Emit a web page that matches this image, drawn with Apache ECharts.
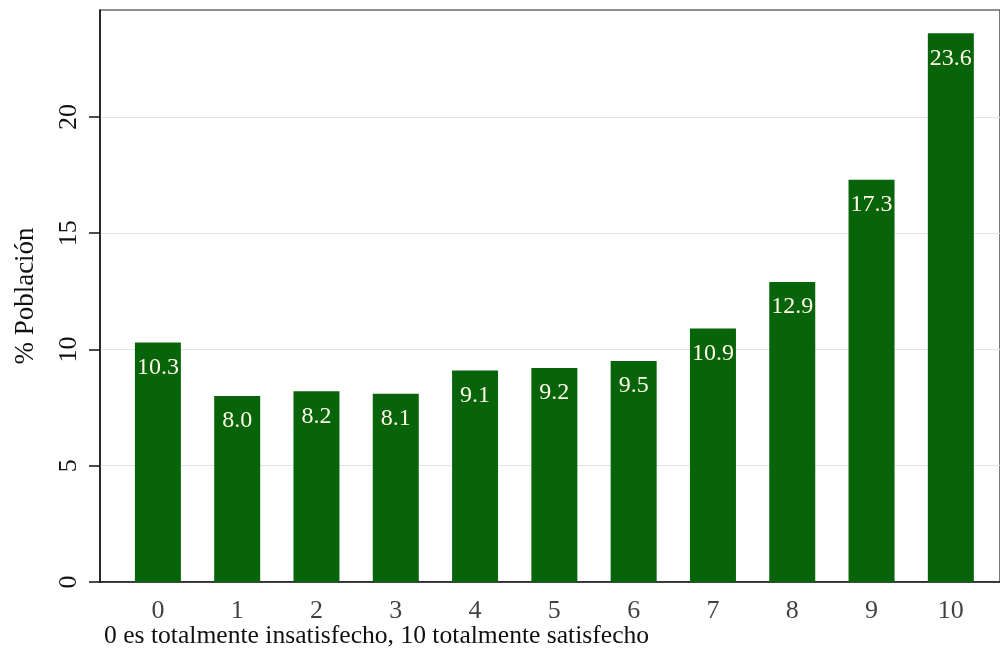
<!DOCTYPE html>
<html><head><meta charset="utf-8">
<script src="https://cdn.jsdelivr.net/npm/echarts@6/dist/echarts.min.js"></script>
<style>html,body{margin:0;padding:0;background:#fff}#c{width:1000px;height:660px}</style>
</head><body><div id="c"></div>
<script>
const categories = [0,1,2,3,4,5,6,7,8,9,10];
const values = [10.3, 8.0, 8.2, 8.1, 9.1, 9.2, 9.5, 10.9, 12.9, 17.3, 23.6];
const yTicks = [0,5,10,15,20];
const xTitle = '0 es totalmente insatisfecho, 10 totalmente satisfecho';
const yTitle = '% Población';
const font = '"Liberation Serif", "DejaVu Serif", serif';

const chart = echarts.init(document.getElementById('c'), null, {renderer:'canvas'});
chart.setOption({
  animation:false,
  backgroundColor:'#fff',
  grid:{left:100, top:10, right:-2, bottom:78, show:true, borderColor:'#222', borderWidth:1.2, backgroundColor:'transparent'},
  xAxis:{type:'value', min:-0.73, max:10.62,
    axisLine:{show:true, onZero:false, lineStyle:{color:'#111', width:1.5}},
    axisTick:{show:false}, splitLine:{show:false},
    axisLabel:{show:false}},
  yAxis:{type:'value', min:0, max:24.6, interval:5,
    axisLine:{show:true, onZero:false, lineStyle:{color:'#111', width:1.5}},
    axisTick:{show:true, length:11, customValues:yTicks, lineStyle:{color:'#111', width:1.5}},
    splitLine:{show:true, lineStyle:{color:'#e3e3e3', width:1}},
    axisLabel:{rotate:90, margin:18, color:'#111', fontFamily:font, fontSize:26, customValues:yTicks,
      formatter:v=> String(v)},
    name:yTitle, nameLocation:'middle', nameGap:61, nameRotate:90,
    nameTextStyle:{color:'#111', fontFamily:font, fontSize:27}},
  series:[{
    type:'bar', barWidth:46,
    data: categories.map((c,i)=>[c, values[i]]),
    itemStyle:{color:'#08640a'},
    label:{show:true, position:'insideTop', distance:13, color:'#fffbe8', fontFamily:font, fontSize:24,
      formatter:p=>p.value[1].toFixed(1)}
  },{
    type:'scatter', symbolSize:0, silent:true,
    data: categories.map(c=>[c,0]),
    label:{show:true, position:'bottom', distance:16, color:'#111', fontFamily:font, fontSize:26,
      formatter:p=>String(p.value[0])}
  }],
  graphic:[{type:'text', left:104, top:623,
    style:{text:xTitle, fill:'#111', font:'25.6px '+font}}]
});
</script></body></html>
